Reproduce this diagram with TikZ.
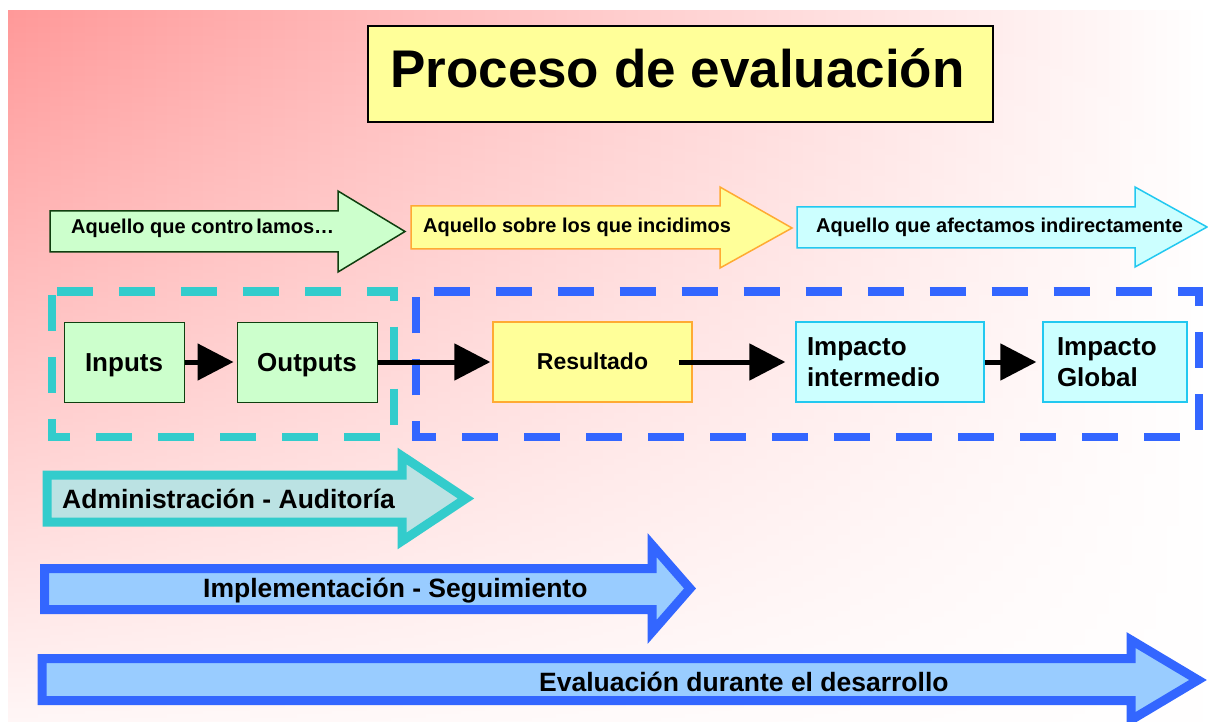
\documentclass[tikz,border=0pt]{standalone}
\usepackage{fontspec}
\setmainfont{Liberation Sans}
\usetikzlibrary{arrows.meta,fadings}
\definecolor{bgred}{HTML}{FF9999}
\definecolor{cgreen}{HTML}{CCFFCC}
\definecolor{cgreend}{HTML}{0F3F0F}
\definecolor{cyellow}{HTML}{FFFF99}
\definecolor{corange}{HTML}{FFAA33}
\definecolor{ccyan}{HTML}{CCFFFF}
\definecolor{ccyand}{HTML}{22C8F0}
\definecolor{cteal}{HTML}{33CCCC}
\definecolor{ctealfill}{HTML}{BBE2E3}
\definecolor{cblue}{HTML}{3366FF}
\definecolor{cbluefill}{HTML}{99CCFF}
\tikzfading[name=fadedown, top color=transparent!100, bottom color=transparent!8]
\tikzset{
  boxtxt/.style={font=\bfseries\fontsize{26}{31}\selectfont},
  box/.style={boxtxt, line width=1pt, minimum height=80pt, inner sep=0pt},
  greenbox/.style={box, fill=cgreen, draw=cgreend, text height=18pt, text depth=0pt},
  yellowbox/.style={box, fill=cyellow, draw=corange, line width=1.3pt},
  cyanbox/.style={box, fill=ccyan, draw=ccyand, line width=1.3pt},
  conn/.style={line width=5pt, -{Triangle[length=36pt,width=36pt]}},
  toparrowtxt/.style={font=\bfseries\fontsize{20}{24}\selectfont, anchor=base west, inner sep=0pt},
  botarrowtxt/.style={font=\bfseries\fontsize{26.5}{31}\selectfont, anchor=base west, inner sep=0pt},
  frame/.style={line width=8pt, dash pattern=on 36pt off 26pt},
}
\begin{document}
\begin{tikzpicture}[x=1pt,y=-1pt]
\useasboundingbox (0,0) rectangle (1208,722);
% background
\shade[left color=bgred, right color=white] (8,11) rectangle (1208,722);
\fill[white, path fading=fadedown] (8,11) rectangle (1208,722);

% title
\node[draw=black, line width=2pt, fill=cyellow, minimum width=625pt, minimum height=96pt, inner sep=0pt] (titlebox) at (680.5,74) {};
\node[font=\bfseries\fontsize{53}{60}\selectfont, anchor=base west, inner sep=0pt] (title) at (390,88) {Proceso de evaluación};

% top arrows
\draw[fill=cgreen, draw=cgreend, line width=1.5pt, line join=miter]
  (50,211) -- (338,211) -- (338,191) -- (405,231.5) -- (338,272) -- (338,252) -- (50,252) -- cycle;
\node[toparrowtxt] (t1) at (71,234) {Aquello que contro\kern3pt lamos…};
\draw[fill=cyellow, draw=corange, line width=1.5pt]
  (411,206) -- (720,206) -- (720,187) -- (792,228) -- (720,268) -- (720,249) -- (411,249) -- cycle;
\node[toparrowtxt] (t2) at (423,233) {Aquello sobre los que incidimos};
\draw[fill=ccyan, draw=ccyand, line width=1.5pt]
  (797,207) -- (1135,207) -- (1135,187) -- (1207,227) -- (1135,267) -- (1135,248) -- (797,248) -- cycle;
\node[toparrowtxt] (t3) at (816,232.7) {Aquello que afectamos indirectamente};

% dashed frames
\draw[frame, draw=cteal, dash phase=56.5pt] (51.7,291.5) -- (394,291.5) -- (394,436.5) -- (51.7,436.5) -- cycle;
\draw[frame, draw=cblue, dash phase=44pt] (415.6,291.5) -- (1199,291.5) -- (1199,437) -- (415.6,437) -- cycle;

% boxes
\node[greenbox, minimum width=120pt] (in) at (124,362) {Inputs};
\node[greenbox, minimum width=140pt] (out) at (307,362) {Outputs};
\node[yellowbox, minimum width=199pt, font=\bfseries\fontsize{23}{28}\selectfont, text height=14pt, text depth=0pt] (res) at (592.5,362) {Resultado};
\node[cyanbox, inner xsep=11pt, text width=166pt, align=left] (imi) at (890,362) {Impacto\\intermedio};
\node[cyanbox, inner xsep=14pt, text width=116pt, align=left] (img) at (1115,362) {Impacto\\Global};

% connectors
\draw[conn, shorten >=3pt] (in) -- (out);
\draw[conn, shorten >=2pt] (out) -- (res);
\draw[conn, shorten <=-14pt, shorten >=10pt] (res) -- (imi);
\draw[conn, shorten >=6pt] (imi) -- (img);

% bottom arrows
\draw[fill=ctealfill, draw=cteal, line width=9pt, line join=miter]
  (47,475) -- (402,475) -- (402,456) -- (466,498.5) -- (402,541) -- (402,522) -- (47,522) -- cycle;
\node[botarrowtxt] (b1) at (62,508) {Administración - Auditoría};
\draw[fill=cbluefill, draw=cblue, line width=9pt, line join=miter]
  (44.5,568.5) -- (652,568.5) -- (652,545) -- (690,588.5) -- (652,632) -- (652,609.5) -- (44.5,609.5) -- cycle;
\node[botarrowtxt] (b2) at (203,597) {Implementación - Seguimiento};
\draw[fill=cbluefill, draw=cblue, line width=9pt, line join=miter]
  (42,658.5) -- (1131,658.5) -- (1131,640) -- (1198,680) -- (1131,720) -- (1131,700.5) -- (42,700.5) -- cycle;
\node[botarrowtxt] (b3) at (539,691) {Evaluación durante el desarrollo};
\end{tikzpicture}
\end{document}
